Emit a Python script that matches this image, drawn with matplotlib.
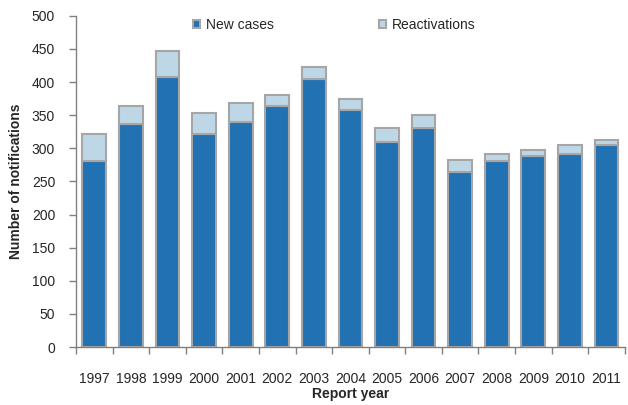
import matplotlib.pyplot as plt
from matplotlib.patches import Patch
import numpy as np

plt.rcParams['font.family'] = ['Liberation Sans', 'DejaVu Sans']

years = ['1997', '1998', '1999', '2000', '2001', '2002', '2003', '2004',
         '2005', '2006', '2007', '2008', '2009', '2010', '2011']
new_cases = [281, 337, 407, 321, 340, 364, 404, 358, 309, 331, 264, 281, 288, 291, 305]
totals = [322, 364, 447, 353, 368, 380, 423, 374, 331, 350, 283, 291, 298, 305, 313]
reactivations = [t - n for t, n in zip(totals, new_cases)]

dark = '#2271b3'
light = '#bdd7e7'
edge = '#a6a6a6'
txt = '#262626'

fig = plt.figure(figsize=(6.28, 4.05), dpi=100)
ax = fig.add_axes([0.121, 0.143, 0.874, 0.818])

x = np.arange(len(years))
ax.bar(x, new_cases, width=0.65, color=dark, edgecolor=edge, linewidth=1.5)
ax.bar(x, reactivations, bottom=new_cases, width=0.65, color=light, edgecolor=edge, linewidth=1.5)

ax.set_xlim(-0.5, len(years) - 0.5)
ax.set_ylim(0, 500)
ax.set_yticks(range(0, 501, 50))
ax.set_xticks(x)
ax.set_xticklabels(years, fontsize=10, color=txt)
ax.set_xticks(np.arange(-0.5, len(years), 1), minor=True)
ax.tick_params(axis='x', which='major', length=0, pad=18)
ax.tick_params(axis='x', which='minor', length=5, color='#808080', width=1)
ax.tick_params(axis='y', length=5, color='#808080', width=1, labelsize=10, labelcolor=txt, pad=10)

for s in ['top', 'right']:
    ax.spines[s].set_visible(False)
for s in ['left', 'bottom']:
    ax.spines[s].set_color('#808080')
    ax.spines[s].set_linewidth(1)

ax.set_ylabel('Number of notifications', fontsize=10, fontweight='bold', color=txt, labelpad=6)
ax.set_xlabel('Report year', fontsize=10, fontweight='bold', color=txt, labelpad=1)

handles = [Patch(facecolor=dark, edgecolor=edge, linewidth=1.5),
           Patch(facecolor=light, edgecolor=edge, linewidth=1.5)]
ax.legend(handles, ['New cases', 'Reactivations'], ncol=2, frameon=False,
          loc='upper center', bbox_to_anchor=(0.471, 1.03), fontsize=10,
          handlelength=0.5, handleheight=0.5, handletextpad=0.4, columnspacing=7.6,
          labelcolor=txt)

fig.savefig('out.png', dpi=100)
